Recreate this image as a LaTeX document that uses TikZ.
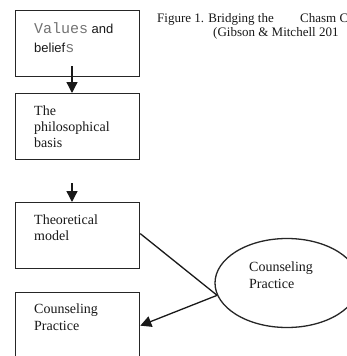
\documentclass[tikz,border=0pt]{standalone}
\usepackage{fontspec}
\setmainfont{Liberation Serif}
\setsansfont{Liberation Sans}
\setmonofont{Liberation Mono}
\usetikzlibrary{arrows.meta,shapes.geometric}
\begin{document}
\begin{tikzpicture}[x=1pt,y=-1pt,
  boxnode/.style={draw=black!85,line width=1.3pt,minimum width=124pt,minimum height=66pt,inner sep=0pt,anchor=north west},
  txt/.style={anchor=base west,inner sep=0pt,font=\fontsize{14}{16}\selectfont,text=black!90},
  ttl/.style={anchor=base west,inner sep=0pt,font=\fontsize{13}{15}\selectfont,text=black!90},
  conn/.style={draw=black!90,line width=1.3pt},
  arr/.style={conn,-{Triangle[length=11pt,width=11pt]}}]
\useasboundingbox (0,0) rectangle (347,356);
\fill[white] (0,0) rectangle (347,356);
% boxes
\node[boxnode] (b1) at (15,10) {};
\node[boxnode] (b2) at (15,93) {};
\node[boxnode] (b3) at (15,202) {};
\node[boxnode] (b4) at (15,292) {};
\node[draw=black!85,line width=1.3pt,ellipse,minimum width=144pt,minimum height=89pt,inner sep=0pt] (e) at (287,283) {};
% texts
\node[txt] (t1a) at (34,33) {{\fontsize{15}{16}\selectfont\ttfamily\color{black!55}Values} {\fontsize{13}{16}\selectfont\sffamily and}};
\node[txt] (t1b) at (34,52) {{\fontsize{13}{16}\selectfont\sffamily belief}{\fontsize{15}{16}\selectfont\ttfamily\color{black!55}s}};
\node[txt] (t2a) at (34,115) {The};
\node[txt] (t2b) at (34,131) {philosophical};
\node[txt] (t2c) at (34,147) {basis};
\node[txt] (t3a) at (34,224) {Theoretical};
\node[txt] (t3b) at (34,240) {model};
\node[txt] (t4a) at (34,313) {Counseling};
\node[txt] (t4b) at (34,330) {Practice};
\node[txt] (tea) at (249,271) {Counseling};
\node[txt] (teb) at (249,288) {Practice};
\node[ttl] (ti1) at (157,23) {Figure 1. Bridging the};
\node[ttl] (ti2) at (300,23) {Chasm C};
\node[ttl] (ti3) at (213,36) {(Gibson \& Mitchell 201};
% connectors
\coordinate (a1s) at (72,66);
\coordinate (a2s) at (72,183);
\draw[arr] (a1s) -- (b2.north -| a1s);
\draw[arr] (a2s) -- (b3.north -| a2s);
\draw[conn] ([yshift=2pt]b3.east) -- (e.190);
\draw[arr] (e.190) -- (b4.east);
\end{tikzpicture}
\end{document}
